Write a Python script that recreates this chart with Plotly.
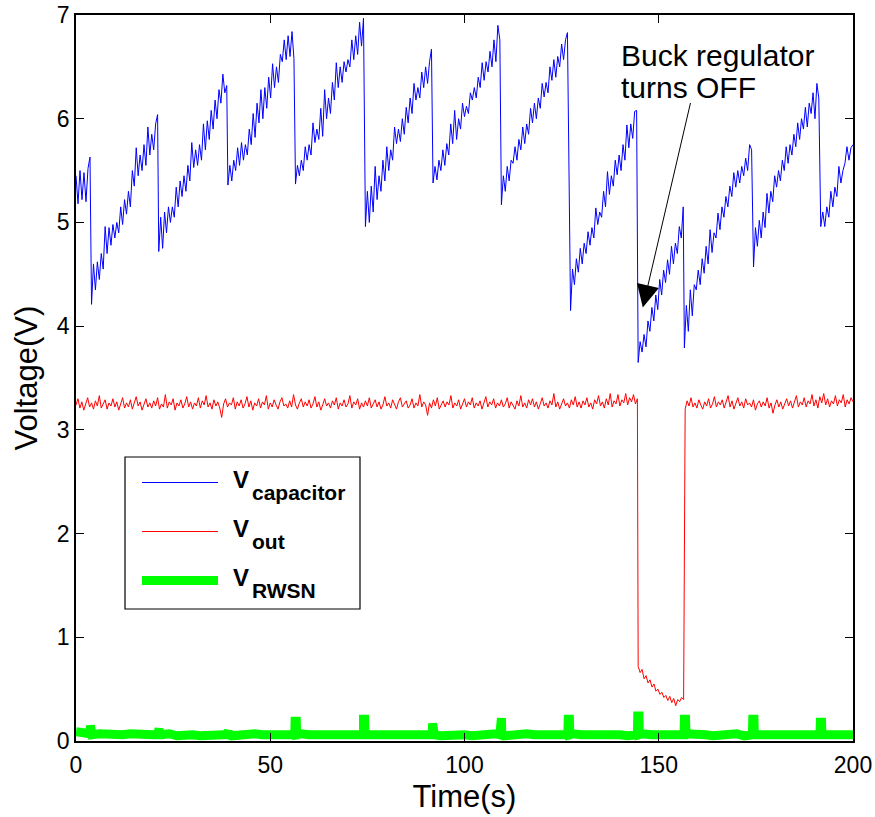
import numpy as np
import plotly.graph_objects as go

# ---------------------------------------------------------------- data
time_range = [0, 200]
volt_range = [0, 7]
x_ticks = [0, 50, 100, 150, 200]
y_ticks = [0, 1, 2, 3, 4, 5, 6, 7]

# Capacitor voltage, one list per charge cycle; samples are spread evenly
# between the cycle's start and end time (s).
cap_start = [0.0, 4.0, 21.3, 39.1, 56.5, 74.5, 91.9, 109.5, 127.3, 144.7, 156.6, 174.4, 191.7]
cap_end = [3.6, 21.0, 38.8, 56.1, 74.0, 91.5, 109.1, 126.5, 144.3, 156.3, 173.9, 191.2, 200.0]
cap_cycles = [
    [5.45, 5.18, 5.50, 5.22, 5.48, 5.20, 5.52, 5.63],
    [4.21, 4.60, 4.35, 4.62, 4.45, 4.70, 4.55, 4.96, 4.70, 4.95, 4.78, 4.98, 4.85, 5.00, 4.90,
     5.15, 4.98, 5.22, 5.08, 5.30, 5.15, 5.50, 5.35, 5.72, 5.45, 5.65, 5.50, 5.75, 5.55, 5.92,
     5.65, 5.85, 5.70, 5.95, 6.04],
    [4.72, 5.05, 4.75, 5.10, 4.90, 5.15, 5.00, 5.15, 5.05, 5.34, 5.15, 5.40, 5.25, 5.45, 5.30,
     5.55, 5.40, 5.77, 5.53, 5.70, 5.55, 5.75, 5.60, 5.95, 5.70, 5.98, 5.80, 6.08, 5.90, 6.18,
     6.00, 6.28, 6.15, 6.43, 6.25, 6.32],
    [5.36, 5.55, 5.40, 5.60, 5.50, 5.72, 5.55, 5.77, 5.60, 5.75, 5.65, 5.90, 5.75, 6.05, 5.82,
     6.15, 5.96, 6.28, 6.00, 6.30, 6.10, 6.40, 6.20, 6.53, 6.30, 6.50, 6.35, 6.62, 6.55, 6.76,
     6.57, 6.80, 6.60, 6.84, 6.58],
    [5.37, 5.55, 5.45, 5.60, 5.50, 5.73, 5.60, 5.75, 5.65, 5.96, 5.77, 5.90, 5.80, 6.10, 5.83,
     6.28, 6.00, 6.20, 6.05, 6.35, 6.18, 6.54, 6.30, 6.50, 6.35, 6.55, 6.45, 6.57, 6.50, 6.76,
     6.57, 6.80, 6.62, 6.93, 6.70, 6.97],
    [4.96, 5.30, 5.00, 5.35, 5.10, 5.54, 5.22, 5.45, 5.30, 5.60, 5.40, 5.73, 5.50, 5.70, 5.60,
     5.92, 5.76, 5.90, 5.78, 6.00, 5.85, 6.11, 5.96, 6.20, 6.05, 6.34, 6.18, 6.30, 6.20, 6.45,
     6.30, 6.50, 6.34, 6.55, 6.67],
    [5.38, 5.54, 5.41, 5.60, 5.50, 5.70, 5.55, 5.76, 5.65, 5.95, 5.76, 6.08, 5.80, 6.00, 5.90,
     6.15, 6.02, 6.12, 6.05, 6.25, 6.18, 6.30, 6.20, 6.40, 6.30, 6.54, 6.37, 6.55, 6.45, 6.65,
     6.50, 6.76, 6.55, 6.90, 6.76],
    [5.17, 5.45, 5.30, 5.54, 5.40, 5.60, 5.57, 5.73, 5.60, 5.80, 5.70, 5.92, 5.76, 5.95, 5.85,
     6.10, 5.96, 6.15, 6.00, 6.20, 6.10, 6.34, 6.21, 6.35, 6.25, 6.50, 6.37, 6.57, 6.40, 6.60,
     6.50, 6.72, 6.57, 6.76, 6.83],
    [4.15, 4.55, 4.40, 4.65, 4.52, 4.75, 4.60, 4.80, 4.70, 4.91, 4.78, 4.95, 4.85, 5.14, 4.98,
     5.10, 5.05, 5.30, 5.15, 5.49, 5.27, 5.45, 5.35, 5.60, 5.46, 5.65, 5.50, 5.75, 5.60, 5.94,
     5.72, 5.95, 5.81, 6.07, 6.08],
    [3.65, 3.85, 3.75, 3.92, 3.80, 4.05, 3.95, 4.18, 4.05, 4.30, 4.16, 4.45, 4.30, 4.54, 4.42,
     4.64, 4.50, 4.77, 4.60, 4.80, 4.70, 4.96, 4.85, 5.15],
    [3.79, 4.20, 3.95, 4.35, 4.10, 4.40, 4.35, 4.54, 4.40, 4.65, 4.51, 4.77, 4.60, 4.93, 4.71,
     4.90, 4.85, 5.09, 4.93, 5.15, 5.05, 5.25, 5.15, 5.35, 5.25, 5.48, 5.34, 5.50, 5.38, 5.54,
     5.45, 5.62, 5.50, 5.75, 5.70],
    [4.57, 4.95, 4.77, 5.02, 4.85, 5.10, 4.95, 5.28, 5.09, 5.30, 5.20, 5.45, 5.34, 5.50, 5.40,
     5.60, 5.50, 5.73, 5.57, 5.75, 5.65, 5.85, 5.73, 5.96, 5.80, 6.00, 5.90, 6.11, 5.92, 6.15,
     6.05, 6.25, 6.00, 6.34, 6.20],
    [4.96, 5.10, 4.96, 5.15, 5.05, 5.30, 5.15, 5.34, 5.25, 5.54, 5.38, 5.50, 5.57, 5.73, 5.60,
     5.72, 5.75],
]

# Regulated output voltage: on before the dropout, off during it, on again after.
vout_start = [0.0, 144.7, 156.8]
vout_end = [144.5, 156.4, 200.0]
vout_on_before = [
    3.24, 3.30, 3.21, 3.27, 3.19, 3.25, 3.31, 3.22, 3.26, 3.20, 3.28, 3.23, 3.33, 3.21, 3.25, 3.29, 3.20, 3.26, 3.23, 3.30,
    3.22, 3.27, 3.19, 3.24, 3.31, 3.21, 3.26, 3.22, 3.29, 3.20, 3.25, 3.32, 3.23, 3.27, 3.19, 3.24, 3.30, 3.22, 3.26, 3.21,
    3.28, 3.23, 3.31, 3.20, 3.25, 3.22, 3.34, 3.21, 3.27, 3.24, 3.30, 3.19, 3.26, 3.23, 3.29, 3.21, 3.25, 3.32, 3.22, 3.27,
    3.20, 3.26, 3.23, 3.31, 3.21, 3.28, 3.24, 3.33, 3.22, 3.26, 3.20, 3.29, 3.23, 3.27, 3.21, 3.12, 3.25, 3.30, 3.22, 3.26,
    3.24, 3.31, 3.20, 3.27, 3.23, 3.29, 3.21, 3.25, 3.32, 3.22, 3.28, 3.19, 3.26, 3.23, 3.30, 3.21, 3.27, 3.24, 3.33, 3.20,
    3.26, 3.22, 3.29, 3.24, 3.20, 3.27, 3.31, 3.23, 3.25, 3.21, 3.28, 3.22, 3.34, 3.24, 3.20, 3.26, 3.30, 3.22, 3.27, 3.23,
    3.29, 3.21, 3.25, 3.32, 3.22, 3.27, 3.19, 3.24, 3.30, 3.23, 3.26, 3.21, 3.28, 3.24, 3.31, 3.20, 3.26, 3.23, 3.29, 3.22,
    3.25, 3.33, 3.21, 3.27, 3.24, 3.30, 3.20, 3.26, 3.22, 3.28, 3.23, 3.31, 3.21, 3.25, 3.29, 3.22, 3.27, 3.20, 3.24, 3.32,
    3.23, 3.26, 3.21, 3.29, 3.24, 3.20, 3.27, 3.31, 3.22, 3.25, 3.28, 3.21, 3.24, 3.30, 3.21, 3.26, 3.23, 3.34, 3.22, 3.27,
    3.24, 3.14, 3.26, 3.21, 3.29, 3.23, 3.31, 3.20, 3.25, 3.28, 3.22, 3.27, 3.24, 3.33, 3.21, 3.26, 3.23, 3.29, 3.20, 3.25,
    3.30, 3.22, 3.27, 3.24, 3.31, 3.21, 3.26, 3.23, 3.28, 3.20, 3.25, 3.32, 3.22, 3.27, 3.24, 3.30, 3.21, 3.26, 3.23, 3.29,
    3.22, 3.25, 3.31, 3.21, 3.27, 3.24, 3.20, 3.28, 3.23, 3.33, 3.22, 3.26, 3.21, 3.29, 3.24, 3.30, 3.22, 3.27, 3.20, 3.25,
    3.31, 3.23, 3.26, 3.21, 3.28, 3.24, 3.35, 3.22, 3.27, 3.20, 3.25, 3.30, 3.23, 3.26, 3.21, 3.29, 3.24, 3.32, 3.22, 3.27,
    3.21, 3.28, 3.24, 3.31, 3.22, 3.26, 3.20, 3.29, 3.25, 3.33, 3.23, 3.27, 3.21, 3.30, 3.24, 3.35, 3.22, 3.28, 3.25, 3.34,
    3.23, 3.29, 3.26, 3.35, 3.24, 3.31, 3.27, 3.34, 3.25, 3.30,
]
vout_off = [0.72, 0.66, 0.69, 0.60, 0.63, 0.56, 0.59, 0.52, 0.55, 0.48, 0.50, 0.45,
            0.47, 0.42, 0.44, 0.39, 0.43, 0.37, 0.41, 0.34, 0.40, 0.38, 0.42, 0.40]
vout_on_after = [
    3.20, 3.28, 3.23, 3.31, 3.22, 3.26, 3.21, 3.29, 3.24, 3.20, 3.27, 3.23, 3.30, 3.21, 3.25, 3.32, 3.22, 3.27, 3.24, 3.29,
    3.21, 3.26, 3.33, 3.22, 3.28, 3.20, 3.25, 3.31, 3.23, 3.27, 3.21, 3.30, 3.24, 3.26, 3.22, 3.29, 3.19, 3.25, 3.28, 3.22,
    3.27, 3.23, 3.31, 3.21, 3.26, 3.16, 3.24, 3.29, 3.22, 3.27, 3.20, 3.25, 3.30, 3.23, 3.28, 3.21, 3.26, 3.33, 3.22, 3.27,
    3.24, 3.31, 3.22, 3.28, 3.25, 3.34, 3.23, 3.29, 3.21, 3.32, 3.26, 3.35, 3.24, 3.30, 3.22, 3.28, 3.25, 3.33, 3.23, 3.29,
    3.26, 3.34, 3.22, 3.29, 3.25, 3.31, 3.27,
]

# Sensor-node supply: baseline every 2 s plus the short pulses at each cycle reset.
rwsn_step = 2.0
rwsn_base = [
    0.09, 0.07, 0.06, 0.07, 0.06, 0.05, 0.06, 0.07, 0.06, 0.05,
    0.06, 0.06, 0.07, 0.05, 0.06, 0.06, 0.05, 0.06, 0.07, 0.06,
    0.05, 0.06, 0.06, 0.07, 0.06, 0.05, 0.06, 0.06, 0.05, 0.07,
    0.06, 0.06, 0.05, 0.06, 0.07, 0.06, 0.05, 0.06, 0.06, 0.07,
    0.05, 0.06, 0.06, 0.05, 0.07, 0.06, 0.06, 0.05, 0.06, 0.07,
    0.06, 0.05, 0.06, 0.06, 0.07, 0.05, 0.06, 0.06, 0.07, 0.06,
    0.05, 0.06, 0.06, 0.05, 0.07, 0.06, 0.05, 0.06, 0.06, 0.07,
    0.06, 0.05, 0.06, 0.07, 0.06, 0.05, 0.06, 0.06, 0.05, 0.07,
    0.08, 0.06, 0.05, 0.06, 0.06, 0.07, 0.05, 0.06, 0.06, 0.05,
    0.07, 0.06, 0.06, 0.05, 0.06, 0.07, 0.06, 0.05, 0.06, 0.06,
    0.06,
]
rwsn_pulse_t = [
    3.6, 3.7, 4.0, 4.1,  21.0, 21.1, 21.4, 21.5,  38.8, 38.9, 39.2, 39.3,
    56.3, 56.4, 56.7, 56.8,  73.9, 74.0, 74.3, 74.4,  91.7, 91.8, 92.1, 92.2,
    109.1, 109.2, 109.5, 109.6,  126.6, 126.7, 127.0, 127.1,  144.5, 144.6, 144.9, 145.0,
    156.5, 156.6, 156.9, 157.0,  174.1, 174.2, 174.5, 174.6,  191.5, 191.6, 191.9, 192.0,
]
rwsn_pulse_v = [
    0.07, 0.15, 0.15, 0.06,  0.06, 0.12, 0.12, 0.06,  0.06, 0.10, 0.10, 0.06,
    0.06, 0.19, 0.19, 0.06,  0.06, 0.21, 0.21, 0.06,  0.06, 0.17, 0.17, 0.06,
    0.06, 0.22, 0.22, 0.06,  0.06, 0.21, 0.21, 0.06,  0.06, 0.24, 0.24, 0.06,
    0.06, 0.21, 0.21, 0.07,  0.06, 0.21, 0.21, 0.06,  0.06, 0.18, 0.18, 0.06,
]

series_names = ["V<sub>capacitor</sub>", "V<sub>out</sub>", "V<sub>RWSN</sub>"]
legend_main = ["V", "V", "V"]
legend_sub = ["capacitor", "out", "RWSN"]

annotation_lines = ["Buck regulator", "turns OFF"]
arrow_tip = (145.9, 4.18)

# ---------------------------------------------------------------- assemble series
def even_segments(starts, ends, chunks):
    t, v = [], []
    for s, e, vals in zip(starts, ends, chunks):
        t.extend(np.linspace(s, e, len(vals)))
        v.extend(vals)
    return np.array(t), np.array(v)

cap_t, cap_v = even_segments(cap_start, cap_end, cap_cycles)
vout_t, vout_v = even_segments(vout_start, vout_end,
                               [vout_on_before, vout_off, vout_on_after])

base_t = np.arange(len(rwsn_base)) * rwsn_step
rw_t = np.concatenate([base_t, rwsn_pulse_t])
rw_v = np.concatenate([rwsn_base, rwsn_pulse_v])
order = np.argsort(rw_t, kind="stable")
rw_t, rw_v = rw_t[order], rw_v[order]

# ---------------------------------------------------------------- styling
FONT = "Liberation Sans, Arial, Helvetica, sans-serif"
colors = ["#0000FF", "#FF0000", "#00FF00"]
widths = [1, 1, 9]

W, H = 875, 817
M = dict(l=76, r=22, t=15, b=76)
PW = W - M["l"] - M["r"]
PH = H - M["t"] - M["b"]


def px(x_pix):
    return (x_pix - M["l"]) / PW


def py(y_pix):
    return (H - M["b"] - y_pix) / PH


fig = go.Figure()
for (t, v), name, c, w in zip([(cap_t, cap_v), (vout_t, vout_v), (rw_t, rw_v)],
                              series_names, colors, widths):
    fig.add_trace(go.Scatter(x=t, y=v, mode="lines", name=name, showlegend=False,
                             line=dict(color=c, width=w)))

axis_common = dict(
    showline=True, linecolor="black", linewidth=1.5, mirror="ticks",
    ticks="inside", ticklen=8, tickwidth=1, tickcolor="black",
    showgrid=False, zeroline=False, automargin=False,
    tickfont=dict(family=FONT, size=23, color="black"),
)
fig.update_xaxes(range=time_range, tickvals=x_ticks, ticktext=[str(v) for v in x_ticks],
                 ticklabelstandoff=3,
                 title=dict(text="Time(s)", font=dict(family=FONT, size=31, color="black"),
                            standoff=8),
                 **axis_common)
fig.update_yaxes(range=volt_range, tickvals=y_ticks, ticktext=[str(v) for v in y_ticks],
                 title=dict(text="Voltage(V)", font=dict(family=FONT, size=31, color="black"),
                            standoff=10),
                 **axis_common)

# legend box drawn from the trace styles
shapes = [dict(type="rect", xref="paper", yref="paper",
               x0=px(125), x1=px(360), y0=py(609), y1=py(457),
               line=dict(color="black", width=1.2), fillcolor="white", layer="above")]
annotations = []
row0, pitch = 482.5, 49
for i, (c, w) in enumerate(zip(colors, widths)):
    yr = row0 + i * pitch
    shapes.append(dict(type="line", xref="paper", yref="paper",
                       x0=px(142), x1=px(218), y0=py(yr), y1=py(yr),
                       line=dict(color=c, width=w), layer="above"))
    annotations.append(dict(xref="paper", yref="paper", x=px(231), y=py(yr - 3),
                            text="<b>%s</b>" % legend_main[i], showarrow=False,
                            xanchor="left", yanchor="middle",
                            font=dict(family=FONT, size=24, color="black")))
    annotations.append(dict(xref="paper", yref="paper", x=px(250), y=py(yr + 10),
                            text="<b>%s</b>" % legend_sub[i], showarrow=False,
                            xanchor="left", yanchor="middle",
                            font=dict(family=FONT, size=21, color="black")))

# callout: text and arrow
for j, line in enumerate(annotation_lines):
    annotations.append(dict(xref="paper", yref="paper", x=px(619), y=py(55 + 33 * j),
                            text=line, showarrow=False, xanchor="left", yanchor="middle",
                            font=dict(family=FONT, size=30, color="black")))
annotations.append(dict(x=arrow_tip[0], y=arrow_tip[1], xref="x", yref="y", text="",
                        showarrow=True, arrowhead=2, arrowsize=4.5, arrowwidth=1,
                        arrowcolor="black", ax=48, ay=-206))

fig.update_layout(
    width=W, height=H, margin=M,
    paper_bgcolor="white", plot_bgcolor="white",
    font=dict(family=FONT, color="black"),
    shapes=shapes, annotations=annotations,
    showlegend=False,
)

fig.write_html("out.html")
